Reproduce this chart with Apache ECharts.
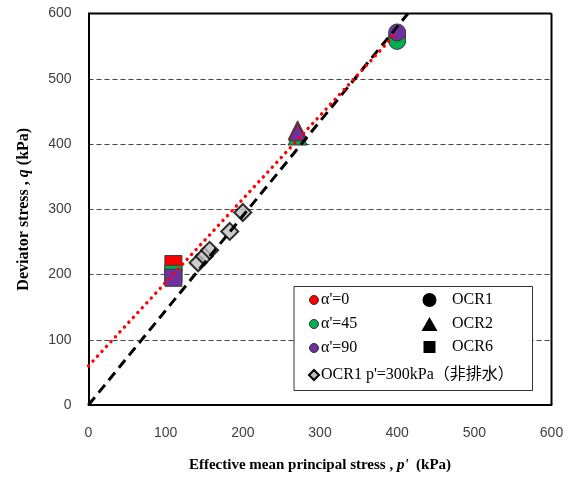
<!DOCTYPE html>
<html>
<head>
<meta charset="utf-8">
<script src="https://cdn.jsdelivr.net/npm/echarts@6/dist/echarts.min.js"></script>
<style>
html,body{margin:0;padding:0;background:#fff;}
#chart{width:568px;height:479px;}
</style>
</head>
<body>
<div id="chart"></div>
<script>
// ---- data (p', q) in kPa ----
const ocr1Red = [[400, 565]];
const ocr1Green = [[400, 558]];
const ocr1Purple = [[400, 571]];
const ocr2Red = [[271, 421]];
const ocr2Green = [[271, 413]];
const ocr2Purple = [[271, 418]];
const ocr6Red = [[110, 216]];
const ocr6Green = [[110, 201]];
const ocr6Purple = [[110, 195]];
const undrained = [[142, 218], [150, 228], [157, 237], [183, 266], [200, 295]];
const redTrend = [[0, 60], [395, 565]];
const blackTrend = [[0, 0], [414, 600]];
const xTicks = [0, 100, 200, 300, 400, 500, 600];
const yTicks = [0, 100, 200, 300, 400, 500, 600];

const RED = '#FF0000', GREEN = '#00B050', PURPLE = '#7030A0';
const serif = '"Liberation Serif", "Times New Roman", "Noto Sans CJK JP", serif';
const sans = '"Liberation Sans", "DejaVu Sans", sans-serif';

function pts(name, data, symbol, size, color) {
  return {
    name: name, type: 'scatter', data: data, symbol: symbol, symbolSize: size,
    itemStyle: { color: color, borderColor: '#3a3a3a', borderWidth: 1, opacity: 1 },
    z: 3, emphasis: { disabled: true }
  };
}

const chart = echarts.init(document.getElementById('chart'), null, { renderer: 'canvas' });
const option = {
  animation: false,
  backgroundColor: '#fff',
  grid: { left: 88.5, right: 16.5, top: 13.5, bottom: 74, containLabel: false },
  xAxis: {
    type: 'value', min: xTicks[0], max: xTicks[xTicks.length - 1], interval: 100,
    name: '{n|Effective mean principal stress , }{i|p\'}{n|  (kPa)}',
    nameLocation: 'middle', nameGap: 53,
    nameTextStyle: { rich: {
      n: { fontFamily: serif, fontWeight: 'bold', fontSize: 15, color: '#000' },
      i: { fontFamily: serif, fontWeight: 'bold', fontStyle: 'italic', fontSize: 15, color: '#000' }
    } },
    axisLine: { show: true, onZero: false, lineStyle: { color: '#000', width: 2 } },
    axisTick: { show: false },
    axisLabel: { margin: 21, fontFamily: sans, fontSize: 14, color: '#404040' },
    splitLine: { show: false }
  },
  yAxis: {
    type: 'value', min: yTicks[0], max: yTicks[yTicks.length - 1], interval: 100,
    name: '{n|Deviator stress , }{i|q}{n| (kPa)}',
    nameLocation: 'middle', nameGap: 57, nameRotate: 90,
    nameTextStyle: { rich: {
      n: { fontFamily: serif, fontWeight: 'bold', fontSize: 16, color: '#000' },
      i: { fontFamily: serif, fontWeight: 'bold', fontStyle: 'italic', fontSize: 16, color: '#000' }
    } },
    axisLine: { show: true, onZero: false, lineStyle: { color: '#000', width: 2 } },
    axisTick: { show: false },
    axisLabel: { margin: 17, fontFamily: sans, fontSize: 14, color: '#404040' },
    splitLine: { show: true, lineStyle: { color: '#444', width: 1, type: [5, 3] } }
  },
  graphic: [
    // frame (top & right edges)
    { type: 'line', shape: { x1: 88.5, y1: 13.5, x2: 551.5, y2: 13.5 }, style: { stroke: '#000', lineWidth: 2 }, z: 10 },
    { type: 'line', shape: { x1: 551.5, y1: 13.5, x2: 551.5, y2: 405 }, style: { stroke: '#000', lineWidth: 2 }, z: 10 },
    // legend box
    { type: 'rect', shape: { x: 294, y: 286.5, width: 238.5, height: 104 }, style: { fill: '#fff', stroke: '#333', lineWidth: 1 }, z: 20 },
    { type: 'circle', shape: { cx: 314, cy: 300, r: 4.5 }, style: { fill: RED, stroke: '#333', lineWidth: 1 }, z: 21 },
    { type: 'text', x: 321, y: 300, style: { text: 'α\'=0', font: '16px ' + serif, fill: '#000', textVerticalAlign: 'middle' }, z: 21 },
    { type: 'circle', shape: { cx: 314, cy: 324, r: 4.5 }, style: { fill: GREEN, stroke: '#333', lineWidth: 1 }, z: 21 },
    { type: 'text', x: 321, y: 324, style: { text: 'α\'=45', font: '16px ' + serif, fill: '#000', textVerticalAlign: 'middle' }, z: 21 },
    { type: 'circle', shape: { cx: 314, cy: 348, r: 4.5 }, style: { fill: PURPLE, stroke: '#333', lineWidth: 1 }, z: 21 },
    { type: 'text', x: 321, y: 348, style: { text: 'α\'=90', font: '16px ' + serif, fill: '#000', textVerticalAlign: 'middle' }, z: 21 },
    { type: 'circle', shape: { cx: 429.5, cy: 300, r: 7 }, style: { fill: '#000' }, z: 21 },
    { type: 'text', x: 452, y: 300, style: { text: 'OCR1', font: '16px ' + serif, fill: '#000', textVerticalAlign: 'middle' }, z: 21 },
    { type: 'polygon', shape: { points: [[429.5, 317], [437.5, 331], [421.5, 331]] }, style: { fill: '#000' }, z: 21 },
    { type: 'text', x: 452, y: 324, style: { text: 'OCR2', font: '16px ' + serif, fill: '#000', textVerticalAlign: 'middle' }, z: 21 },
    { type: 'rect', shape: { x: 423.5, y: 341, width: 12, height: 12 }, style: { fill: '#000' }, z: 21 },
    { type: 'text', x: 452, y: 347, style: { text: 'OCR6', font: '16px ' + serif, fill: '#000', textVerticalAlign: 'middle' }, z: 21 },
    { type: 'polygon', shape: { points: [[314, 370], [319, 375], [314, 380], [309, 375]] }, style: { fill: '#c0c0c0', stroke: '#000', lineWidth: 2 }, z: 21 },
    { type: 'text', x: 321, y: 375, style: { text: 'OCR1 p\'=300kPa（非排水）', font: '16px ' + serif, fill: '#000', textVerticalAlign: 'middle' }, z: 21 }
  ],
  series: [
    pts('OCR6 α0', ocr6Red, 'rect', 17, RED),
    pts('OCR6 α45', ocr6Green, 'rect', 17, GREEN),
    pts('OCR6 α90', ocr6Purple, 'rect', 17, PURPLE),
    pts('OCR2 α0', ocr2Red, 'triangle', 19, RED),
    pts('OCR2 α45', ocr2Green, 'triangle', 19, GREEN),
    pts('OCR2 α90', ocr2Purple, 'triangle', 17, PURPLE),
    pts('OCR1 α0', ocr1Red, 'circle', 17, RED),
    pts('OCR1 α45', ocr1Green, 'circle', 17, GREEN),
    pts('OCR1 α90', ocr1Purple, 'circle', 17, PURPLE),
    {
      name: 'undrained', type: 'scatter', data: undrained, symbol: 'diamond', symbolSize: 17,
      itemStyle: { color: '#c0c0c0', borderColor: '#000', borderWidth: 2 }, z: 3
    },
    {
      name: 'black trend', type: 'line', data: blackTrend, symbol: 'none', clip: true,
      lineStyle: { color: '#000', width: 3, type: [10, 6] }, z: 5
    },
    {
      name: 'red trend', type: 'line', data: redTrend, symbol: 'none', clip: true,
      lineStyle: { color: RED, width: 3.4, type: [0.1, 6.5], cap: 'round' }, z: 6
    }
  ]
};
chart.setOption(option);
</script>
</body>
</html>
